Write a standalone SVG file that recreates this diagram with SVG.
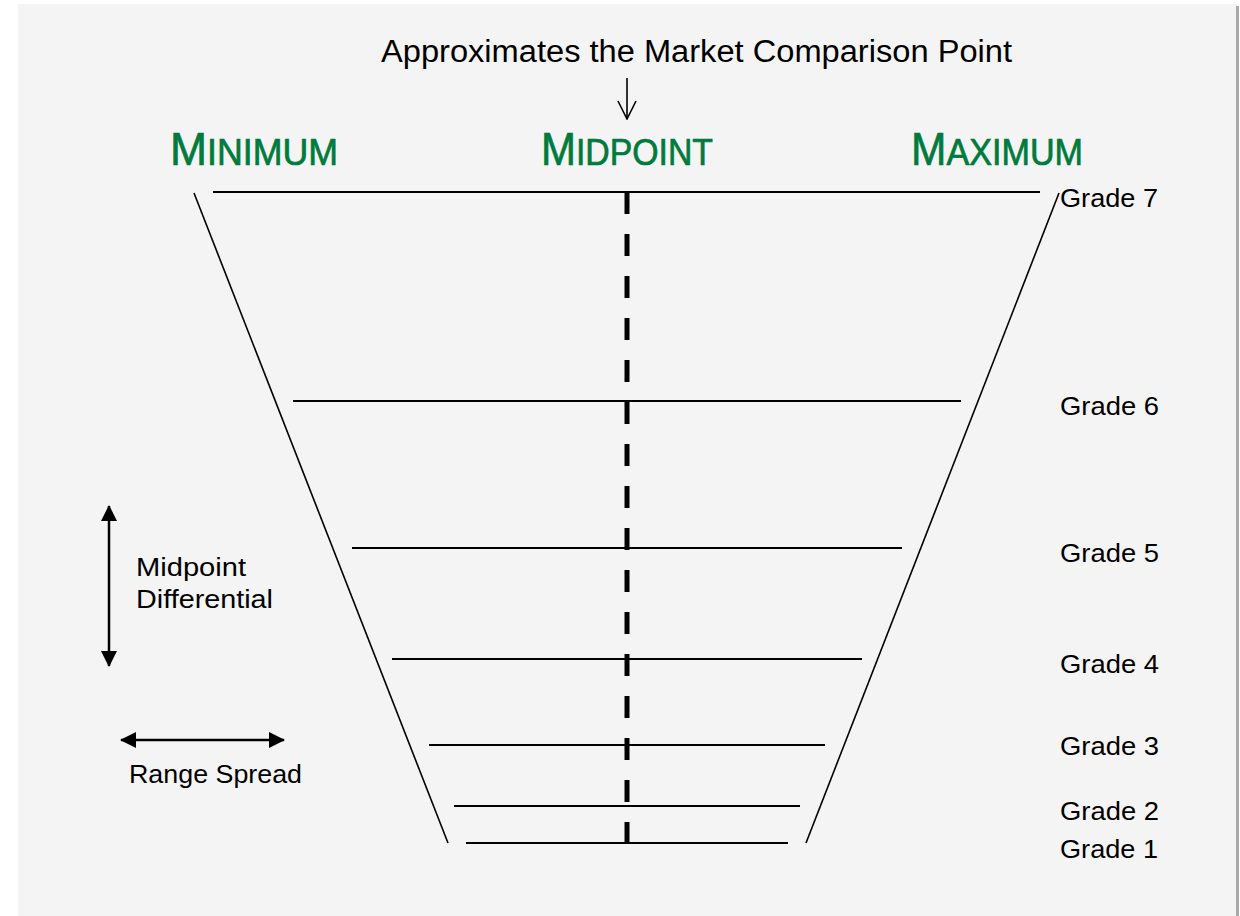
<svg xmlns="http://www.w3.org/2000/svg" width="1240" height="916" viewBox="0 0 1240 916">
  <style>
    .lbl { font-family: "Liberation Sans", Arial, sans-serif; fill: #000; }
    .grade { font-size: 26px; }
    .head { font-family: "Liberation Sans", Arial, sans-serif; fill: #007a3d; stroke: #007a3d; stroke-width: 0.7; }
    .big { font-size: 46px; }
    .sc { font-size: 37px; }
    .rung { stroke: #000; stroke-width: 2; fill: none; }
    .side { stroke: #000; stroke-width: 1.6; fill: none; }
  </style>
  <defs>
    <marker id="solid" viewBox="0 0 16 16" refX="15" refY="8" markerWidth="16" markerHeight="16" markerUnits="userSpaceOnUse" orient="auto-start-reverse">
      <path d="M0,0 L16,8 L0,16 z" fill="#000"/>
    </marker>
    <marker id="open" viewBox="0 0 20 20" refX="19" refY="10" markerWidth="20" markerHeight="20" markerUnits="userSpaceOnUse" orient="auto">
      <path d="M1,1 L19,10 L1,19" fill="none" stroke="#000" stroke-width="1.6"/>
    </marker>
  </defs>

  <!-- page and panel -->
  <rect x="0" y="0" width="1240" height="916" fill="#ffffff"/>
  <rect x="18" y="4" width="1219" height="912" fill="#f4f4f4"/>
  <rect x="1236" y="6" width="3" height="910" fill="#a9a9a9"/>

  <!-- title -->
  <g id="title">
    <text class="lbl" x="381" y="62" font-size="31" textLength="631" lengthAdjust="spacingAndGlyphs">Approximates the Market Comparison Point</text>
  </g>

  <!-- column headings -->
  <g id="minimum">
    <text class="head" x="170" y="165" textLength="168" lengthAdjust="spacingAndGlyphs"><tspan class="big">M</tspan><tspan class="sc">INIMUM</tspan></text>
  </g>
  <g id="midpoint">
    <text class="head" x="541" y="165" textLength="172" lengthAdjust="spacingAndGlyphs"><tspan class="big">M</tspan><tspan class="sc">IDPOINT</tspan></text>
  </g>
  <g id="maximum">
    <text class="head" x="911" y="165" textLength="172" lengthAdjust="spacingAndGlyphs"><tspan class="big">M</tspan><tspan class="sc">AXIMUM</tspan></text>
  </g>

  <!-- grade labels -->
  <g id="grade7"><text class="lbl grade" x="1060" y="207" textLength="98" lengthAdjust="spacingAndGlyphs">Grade 7</text></g>
  <g id="grade6"><text class="lbl grade" x="1060" y="415" textLength="99" lengthAdjust="spacingAndGlyphs">Grade 6</text></g>
  <g id="grade5"><text class="lbl grade" x="1060" y="562" textLength="99" lengthAdjust="spacingAndGlyphs">Grade 5</text></g>
  <g id="grade4"><text class="lbl grade" x="1060" y="673" textLength="99" lengthAdjust="spacingAndGlyphs">Grade 4</text></g>
  <g id="grade3"><text class="lbl grade" x="1060" y="755" textLength="99" lengthAdjust="spacingAndGlyphs">Grade 3</text></g>
  <g id="grade2"><text class="lbl grade" x="1060" y="820" textLength="99" lengthAdjust="spacingAndGlyphs">Grade 2</text></g>
  <g id="grade1"><text class="lbl grade" x="1060" y="858" textLength="98" lengthAdjust="spacingAndGlyphs">Grade 1</text></g>

  <!-- legend -->
  <g id="midpoint-differential">
    <text class="lbl" font-size="25" x="136" y="576" textLength="110" lengthAdjust="spacingAndGlyphs">Midpoint</text>
    <text class="lbl" font-size="25" x="136" y="608" textLength="137" lengthAdjust="spacingAndGlyphs">Differential</text>
  </g>
  <g id="range-spread">
    <text class="lbl" font-size="25" x="129" y="783" textLength="173" lengthAdjust="spacingAndGlyphs">Range Spread</text>
  </g>

  <g id="connectors">
    <!-- pointer from title to midpoint heading -->
    <line x1="627" y1="78" x2="627" y2="119" stroke="#000" stroke-width="1.6" marker-end="url(#open)"/>

    <!-- funnel sides -->
    <line class="side" x1="194" y1="193" x2="448" y2="843"/>
    <line class="side" x1="1059" y1="193" x2="806" y2="843"/>

    <!-- grade rungs -->
    <line class="rung" x1="213" y1="192" x2="1040" y2="192"/>
    <line class="rung" x1="293" y1="401" x2="961" y2="401"/>
    <line class="rung" x1="352" y1="548" x2="902" y2="548"/>
    <line class="rung" x1="392" y1="659" x2="862" y2="659"/>
    <line class="rung" x1="429" y1="745" x2="825" y2="745"/>
    <line class="rung" x1="454" y1="806" x2="800" y2="806"/>
    <line class="rung" x1="466" y1="843" x2="788" y2="843"/>

    <!-- midpoint axis -->
    <line x1="627" y1="192" x2="627" y2="844" stroke="#000" stroke-width="5" stroke-dasharray="22 20"/>

    <!-- legend arrows -->
    <line x1="109" y1="506" x2="109" y2="666" stroke="#000" stroke-width="2.5" marker-start="url(#solid)" marker-end="url(#solid)"/>
    <line x1="121" y1="740" x2="284" y2="740" stroke="#000" stroke-width="2.5" marker-start="url(#solid)" marker-end="url(#solid)"/>
  </g>
</svg>
